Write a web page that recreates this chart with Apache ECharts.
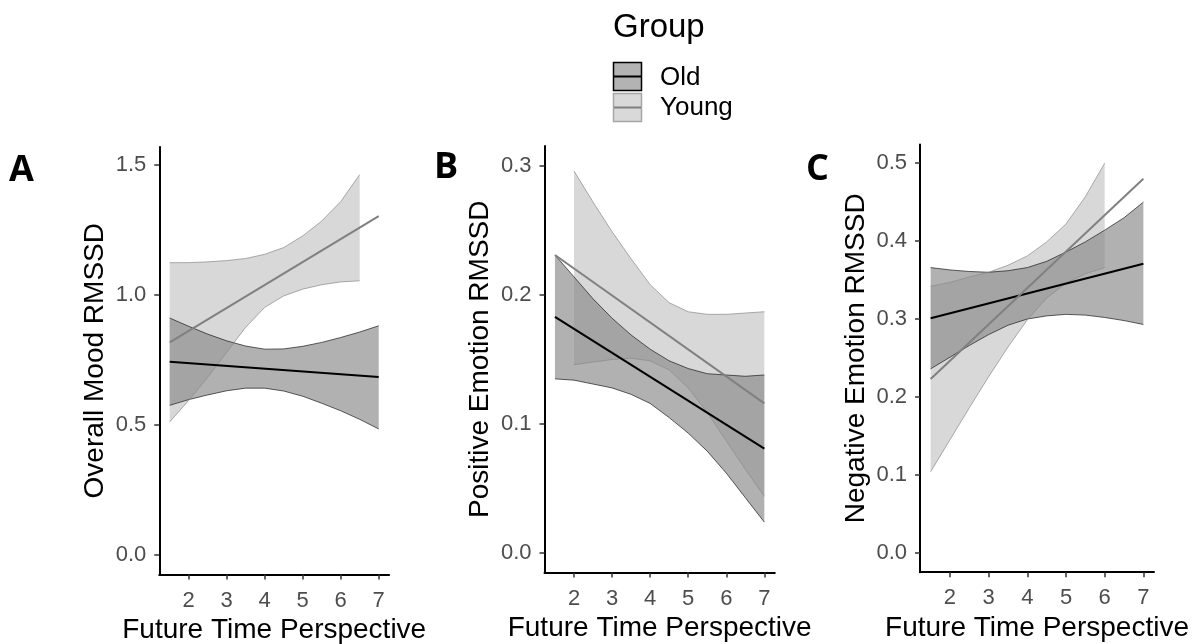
<!DOCTYPE html>
<html>
<head>
<meta charset="utf-8">
<script src="https://cdn.jsdelivr.net/npm/echarts@6/dist/echarts.min.js"></script>
<style>
  html, body { margin: 0; padding: 0; background: #ffffff; }
  #chart { width: 1197px; height: 644px; }
</style>
</head>
<body>
<div id="chart"></div>
<script>
// ---- data -------------------------------------------------------------
// Future Time Perspective values at which the fits and bands are given
const ftpX      = [1.5, 2, 2.5, 3, 3.5, 4, 4.5, 5, 5.5, 6, 6.5, 7];
const fitX      = [1.5, 7];
const xTickVals = [2, 3, 4, 5, 6, 7];

// Panel A: Overall Mood RMSSD
const moodYTicks      = [0, 0.5, 1, 1.5];
const moodOldFit      = [0.744, 0.685];
const moodOldUpper    = [0.912, 0.880, 0.850, 0.824, 0.804, 0.792, 0.793, 0.803, 0.818, 0.837, 0.858, 0.882];
const moodOldLower    = [0.576, 0.598, 0.616, 0.632, 0.642, 0.642, 0.631, 0.611, 0.584, 0.555, 0.522, 0.485];
const moodYoungFit    = [0.818, 1.304];
const moodYoungX      = [1.5, 2, 2.5, 3, 3.5, 4, 4.5, 5, 5.5, 6, 6.5];
const moodYoungUpper  = [1.125, 1.125, 1.128, 1.133, 1.141, 1.157, 1.183, 1.228, 1.285, 1.360, 1.464];
const moodYoungLower  = [0.512, 0.595, 0.684, 0.780, 0.876, 0.953, 0.997, 1.023, 1.040, 1.051, 1.055];

// Panel B: Positive Emotion RMSSD
const posYTicks       = [0, 0.1, 0.2, 0.3];
const posOldFit       = [0.183, 0.081];
const posOldUpper     = [0.231, 0.214, 0.197, 0.182, 0.169, 0.158, 0.149, 0.143, 0.139, 0.138, 0.137, 0.138];
const posOldLower     = [0.135, 0.134, 0.131, 0.128, 0.123, 0.116, 0.105, 0.093, 0.079, 0.062, 0.043, 0.024];
const posYoungFit     = [0.231, 0.116];
const posYoungX       = [2, 2.5, 3, 3.5, 4, 4.5, 5, 5.5, 6, 6.5, 7];
const posYoungUpper   = [0.296, 0.272, 0.249, 0.228, 0.208, 0.194, 0.187, 0.185, 0.185, 0.186, 0.187];
const posYoungLower   = [0.146, 0.148, 0.150, 0.151, 0.149, 0.142, 0.128, 0.109, 0.087, 0.065, 0.044];

// Panel C: Negative Emotion RMSSD
const negYTicks       = [0, 0.1, 0.2, 0.3, 0.4, 0.5];
const negOldFit       = [0.301, 0.371];
const negOldUpper     = [0.366, 0.363, 0.361, 0.360, 0.362, 0.366, 0.374, 0.386, 0.399, 0.414, 0.430, 0.450];
const negOldLower     = [0.236, 0.251, 0.266, 0.280, 0.292, 0.300, 0.304, 0.306, 0.305, 0.302, 0.298, 0.293];
const negYoungFit     = [0.223, 0.480];
const negYoungX       = [1.5, 2, 2.5, 3, 3.5, 4, 4.5, 5, 5.5, 6];
const negYoungUpper   = [0.342, 0.347, 0.354, 0.360, 0.369, 0.381, 0.399, 0.422, 0.457, 0.500];
const negYoungLower   = [0.104, 0.145, 0.186, 0.226, 0.264, 0.299, 0.327, 0.346, 0.358, 0.366];

const groupNames = ['Old', 'Young'];

// ---- styling ------------------------------------------------------------
const FONT = "'Liberation Sans', Arial, sans-serif";
const OLD = { fill: 'rgba(51,51,51,0.38)', edge: '#1a1a1a', line: '#000000', key: '#b3b3b3', keyEdge: '#000000' };
const YOUNG = { fill: 'rgba(140,140,140,0.34)', edge: '#8a8a8a', line: '#808080', key: '#d9d9d9', keyEdge: '#a6a6a6' };

const panels = [
  { title: 'Overall Mood RMSSD', yMin: -0.075, yMax: 1.57, yTicks: moodYTicks,
    grid: { left: 159.25, top: 147, width: 229.9, height: 427.5 },
    old:   { x: ftpX, up: moodOldUpper, lo: moodOldLower, fit: moodOldFit },
    young: { x: moodYoungX, up: moodYoungUpper, lo: moodYoungLower, fit: moodYoungFit } },
  { title: 'Positive Emotion RMSSD', yMin: -0.015, yMax: 0.3154, yTicks: posYTicks,
    grid: { left: 544.5, top: 146, width: 230.3, height: 426.5 },
    old:   { x: ftpX, up: posOldUpper, lo: posOldLower, fit: posOldFit },
    young: { x: posYoungX, up: posYoungUpper, lo: posYoungLower, fit: posYoungFit } },
  { title: 'Negative Emotion RMSSD', yMin: -0.025, yMax: 0.524, yTicks: negYTicks,
    grid: { left: 920, top: 144.5, width: 234, height: 427.7 },
    old:   { x: ftpX, up: negOldUpper, lo: negOldLower, fit: negOldFit },
    young: { x: negYoungX, up: negYoungUpper, lo: negYoungLower, fit: negYoungFit } }
];

// Confidence band drawn as one filled polygon through the axis scales
function bandSeries(idx, band, fill) {
  return {
    type: 'custom', xAxisIndex: idx, yAxisIndex: idx, silent: true, z: 1,
    data: band.x.map((x, i) => [x, band.up[i], band.lo[i]]),
    encode: { x: 0, y: [1, 2] },
    renderItem: function (params, api) {
      if (params.dataIndex !== 0) return null;
      const pts = [];
      for (let i = 0; i < band.x.length; i++) pts.push(api.coord([band.x[i], band.up[i]]));
      for (let i = band.x.length - 1; i >= 0; i--) pts.push(api.coord([band.x[i], band.lo[i]]));
      return { type: 'polygon', shape: { points: pts }, style: { fill: fill } };
    }
  };
}

function lineSeries(idx, xs, ys, color, width, z, name) {
  return {
    type: 'line', name: name, xAxisIndex: idx, yAxisIndex: idx, silent: true, z: z,
    showSymbol: false, symbol: 'none', animation: false,
    data: xs.map((x, i) => [x, ys[i]]),
    lineStyle: { color: color, width: width }
  };
}

const grids = [], xAxes = [], yAxes = [], series = [];
panels.forEach((p, i) => {
  grids.push(Object.assign({ containLabel: false, outerBoundsMode: 'none' }, p.grid));
  xAxes.push({
    gridIndex: i, type: 'value', min: 1.225, max: 7.275,
    name: 'Future Time Perspective', nameLocation: 'middle', nameGap: 41,
    nameTextStyle: { fontFamily: FONT, fontSize: 28, color: '#000' },
    axisLine: { onZero: false, lineStyle: { color: '#000', width: 2 } },
    axisTick: { customValues: xTickVals, length: 5, lineStyle: { color: '#333', width: 1.5 } },
    axisLabel: { customValues: xTickVals, margin: 15, fontFamily: FONT, fontSize: 22, color: '#4d4d4d' },
    splitLine: { show: false }
  });
  yAxes.push({
    gridIndex: i, type: 'value', min: p.yMin, max: p.yMax,
    name: p.title, nameLocation: 'middle', nameGap: 50,
    nameTextStyle: { fontFamily: FONT, fontSize: 28, color: '#000' },
    axisLine: { onZero: false, lineStyle: { color: '#000', width: 2 } },
    axisTick: { customValues: p.yTicks, length: 5, lineStyle: { color: '#333', width: 1.5 } },
    axisLabel: { customValues: p.yTicks, margin: 13, fontFamily: FONT, fontSize: 22, color: '#4d4d4d',
                 formatter: v => v.toFixed(1) },
    splitLine: { show: false }
  });
  // ribbons
  series.push(bandSeries(i, p.old, OLD.fill));
  series.push(bandSeries(i, p.young, YOUNG.fill));
  // ribbon outlines
  series.push(lineSeries(i, p.old.x, p.old.up, OLD.edge, 0.7, 2));
  series.push(lineSeries(i, p.old.x, p.old.lo, OLD.edge, 0.7, 2));
  series.push(lineSeries(i, p.young.x, p.young.up, YOUNG.edge, 0.7, 2));
  series.push(lineSeries(i, p.young.x, p.young.lo, YOUNG.edge, 0.7, 2));
  // fitted lines
  series.push(lineSeries(i, fitX, p.old.fit, OLD.line, 2, 3, groupNames[0]));
  series.push(lineSeries(i, fitX, p.young.fit, YOUNG.line, 2, 3, groupNames[1]));
});

// Legend block and panel letters
const letterStyle = { fontFamily: "'Open Sans', 'Liberation Sans', sans-serif", fontWeight: 'bold', fontSize: 36, fill: '#000', align: 'left', verticalAlign: 'middle' };
const graphic = [
  { type: 'text', x: 613, y: 28, style: { text: 'Group', fontFamily: FONT, fontSize: 33, fill: '#000', align: 'left', verticalAlign: 'middle' } },
  { type: 'rect', shape: { x: 613.5, y: 62.5, width: 28, height: 28 }, style: { fill: OLD.key, stroke: OLD.keyEdge, lineWidth: 1.5 } },
  { type: 'line', shape: { x1: 614, y1: 76.5, x2: 641, y2: 76.5 }, style: { stroke: OLD.line, lineWidth: 2 } },
  { type: 'rect', shape: { x: 613.5, y: 93.5, width: 28, height: 28 }, style: { fill: YOUNG.key, stroke: YOUNG.keyEdge, lineWidth: 1.5 } },
  { type: 'line', shape: { x1: 614, y1: 107.5, x2: 641, y2: 107.5 }, style: { stroke: YOUNG.line, lineWidth: 2 } },
  { type: 'text', x: 660, y: 78, style: { text: groupNames[0], fontFamily: FONT, fontSize: 26, fill: '#000', align: 'left', verticalAlign: 'middle' } },
  { type: 'text', x: 660, y: 108, style: { text: groupNames[1], fontFamily: FONT, fontSize: 26, fill: '#000', align: 'left', verticalAlign: 'middle' } },
  { type: 'text', x: 9, y: 171, style: Object.assign({ text: 'A' }, letterStyle) },
  { type: 'text', x: 434, y: 168, style: Object.assign({ text: 'B' }, letterStyle) },
  { type: 'text', x: 806, y: 170, style: Object.assign({ text: 'C' }, letterStyle) }
];

const chart = echarts.init(document.getElementById('chart'), null, { renderer: 'canvas' });
chart.setOption({
  animation: false,
  backgroundColor: '#ffffff',
  grid: grids,
  xAxis: xAxes,
  yAxis: yAxes,
  series: series,
  graphic: graphic
});
</script>
</body>
</html>
